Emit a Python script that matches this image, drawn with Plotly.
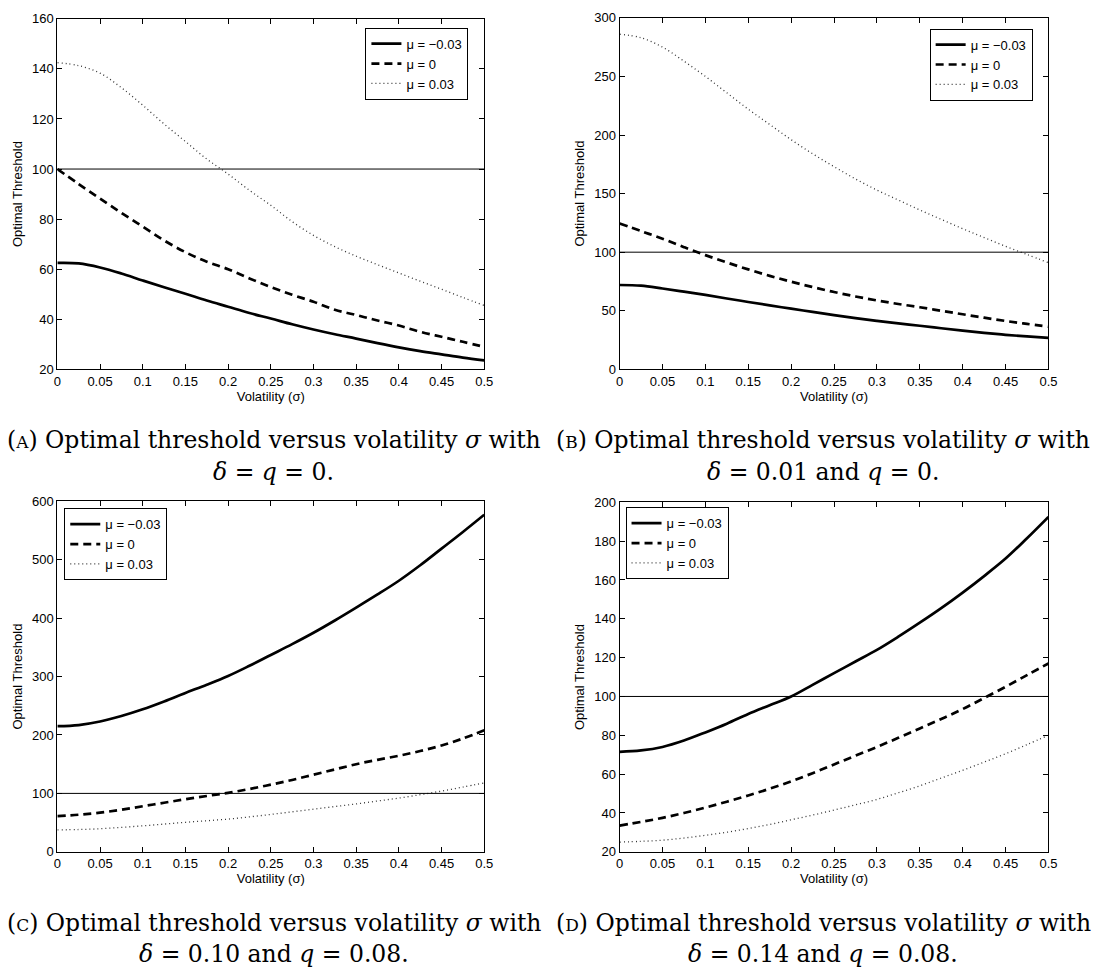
import plotly.graph_objects as go

W, H = 1095, 977

sigma = [0.0, 0.025, 0.05, 0.075, 0.10, 0.125, 0.15, 0.175, 0.20, 0.225, 0.25,
         0.275, 0.30, 0.325, 0.35, 0.375, 0.40, 0.425, 0.45, 0.475, 0.50]
x_ticks = [0, 0.05, 0.1, 0.15, 0.2, 0.25, 0.3, 0.35, 0.4, 0.45, 0.5]
x_tick_text = ["0", "0.05", "0.1", "0.15", "0.2", "0.25", "0.3", "0.35", "0.4", "0.45", "0.5"]
series_names = ["\u03bc = \u22120.03", "\u03bc = 0", "\u03bc = 0.03"]

# Panel A: delta = q = 0
A_neg = [62.5, 62.3, 60.7, 58.3, 55.5, 52.8, 50.2, 47.5, 45.0, 42.5, 40.3,
         38.0, 35.9, 34.0, 32.3, 30.5, 28.8, 27.3, 26.0, 24.7, 23.6]
A_zero = [100.0, 94.0, 88.2, 82.5, 77.0, 71.5, 66.8, 63.0, 60.0, 56.3, 52.9,
          49.8, 47.0, 43.8, 41.7, 39.5, 37.5, 35.0, 33.0, 31.0, 29.0]
A_pos = [142.5, 141.3, 138.3, 132.5, 125.5, 118.0, 111.0, 104.0, 98.0, 91.5, 85.5,
         79.0, 73.5, 69.0, 65.2, 61.8, 58.5, 55.2, 52.0, 48.7, 45.5]
# Panel B: delta = 0.01, q = 0
B_neg = [72.0, 71.4, 69.0, 66.3, 63.5, 60.5, 57.5, 54.6, 51.8, 49.0, 46.3,
         43.7, 41.3, 39.2, 37.2, 35.1, 33.0, 31.2, 29.5, 28.1, 26.8]
B_zero = [124.5, 118.0, 111.5, 104.3, 97.5, 91.2, 85.3, 79.8, 74.8, 70.2, 66.0,
          62.2, 58.8, 55.8, 53.0, 50.0, 47.0, 44.1, 41.3, 38.8, 36.4]
B_pos = [286.0, 283.0, 275.0, 263.0, 250.0, 236.0, 222.0, 209.0, 196.0, 184.0, 173.0,
         162.5, 153.0, 144.5, 136.0, 128.0, 120.0, 112.5, 105.0, 98.0, 91.0]
# Panel C: delta = 0.10, q = 0.08
C_neg = [215.0, 217.0, 223.0, 232.5, 244.0, 257.5, 272.0, 286.0, 301.0, 318.5, 337.0,
         355.5, 375.0, 396.0, 418.0, 440.5, 464.0, 490.5, 519.0, 547.5, 577.0]
C_zero = [61.0, 63.5, 67.0, 72.0, 78.0, 84.0, 90.0, 95.5, 101.0, 107.5, 115.0,
          123.0, 132.0, 141.0, 150.0, 157.5, 164.5, 172.5, 182.0, 194.0, 208.0]
C_pos = [37.5, 38.2, 39.5, 41.8, 44.5, 47.5, 50.5, 53.2, 56.0, 59.8, 64.0,
         68.5, 73.0, 77.5, 82.0, 87.0, 92.0, 97.8, 104.0, 110.8, 118.0]
# Panel D: delta = 0.14, q = 0.08
D_neg = [71.5, 72.2, 74.0, 77.3, 81.5, 86.0, 91.0, 95.5, 100.0, 106.0, 112.0,
         118.0, 124.0, 130.8, 138.0, 145.5, 153.5, 162.0, 171.0, 181.5, 192.5]
D_zero = [33.5, 35.4, 37.5, 40.0, 42.8, 45.8, 49.0, 52.5, 56.3, 60.5, 65.0,
          69.5, 74.0, 78.7, 83.5, 88.4, 93.5, 99.2, 105.0, 111.0, 117.0]
D_pos = [25.0, 25.4, 26.0, 27.1, 28.5, 30.1, 32.0, 34.1, 36.5, 38.9, 41.5,
         44.2, 47.0, 50.4, 54.0, 58.0, 62.0, 66.2, 70.5, 75.2, 80.0]

y_ranges = [[20, 160], [0, 300], [0, 600], [20, 200]]
y_dticks = [20, 50, 100, 20]
ref_level = 100

SC = "<span style='font-size:17px'>{}</span>"
captions = [
    ("(" + SC.format("A") + ") Optimal threshold versus volatility <i>\u03c3</i> with",
     "<i>\u03b4</i> = <i>q</i> = 0."),
    ("(" + SC.format("B") + ") Optimal threshold versus volatility <i>\u03c3</i> with",
     "<i>\u03b4</i> = 0.01 and <i>q</i> = 0."),
    ("(" + SC.format("C") + ") Optimal threshold versus volatility <i>\u03c3</i> with",
     "<i>\u03b4</i> = 0.10 and <i>q</i> = 0.08."),
    ("(" + SC.format("D") + ") Optimal threshold versus volatility <i>\u03c3</i> with",
     "<i>\u03b4</i> = 0.14 and <i>q</i> = 0.08."),
]

panels = [(A_neg, A_zero, A_pos), (B_neg, B_zero, B_pos), (C_neg, C_zero, C_pos), (D_neg, D_zero, D_pos)]

# pixel boxes of plot areas (left, right, top, bottom)
boxes = [(54, 486, 12, 368), (623, 1057, 11, 368), (54, 486, 502, 858), (623, 1057, 503, 858)]
legend_pos = [(470, 21, "right"), (1041, 22, "right"), (61, 509, "left"), (629, 508, "left")]
caption_y = [440, 440, 930, 930]
caption_x = [273, 829, 273, 829]

SANS = "Liberation Sans, Arial, Helvetica, sans-serif"
SERIF = "DejaVu Serif, serif"

styles = [
    dict(color="black", width=2.7, dash="solid"),
    dict(color="black", width=2.7, dash="8px,5px"),
    dict(color="#333333", width=1.3, dash="1px,3px"),
]

fig = go.Figure()
tick_font = dict(family=SANS, size=13, color="black")

annotations = []
shapes = []
for i, (data, box) in enumerate(zip(panels, boxes)):
    sfx = "" if i == 0 else str(i + 1)
    leg = "legend" if i == 0 else "legend" + str(i + 1)
    for name, vals, st in zip(series_names, data, styles):
        fig.add_trace(go.Scatter(
            x=sigma, y=vals, mode="lines", name=name, line=dict(shape="spline", smoothing=1.0, **st),
            xaxis="x" + sfx, yaxis="y" + sfx, legend=leg, showlegend=True))
    l, r, t, b = box
    xdom = [l / W, r / W]
    ydom = [1 - b / H, 1 - t / H]
    common = dict(showline=True, linecolor="black", linewidth=1, mirror="ticks", ticks="inside",
                  ticklen=5, tickcolor="black", showgrid=False, zeroline=False, tickfont=tick_font)
    fig.update_layout(**{
        "xaxis" + sfx: dict(domain=xdom, range=[0, 0.5], tickvals=x_ticks, ticktext=x_tick_text,
                            anchor="y" + sfx,
                            title=dict(text="Volatility (\u03c3)", standoff=3,
                                       font=dict(family=SANS, size=13, color="black")),
                            **common),
        "yaxis" + sfx: dict(domain=ydom, range=y_ranges[i], dtick=y_dticks[i], anchor="x" + sfx,
                            title=dict(text="Optimal Threshold", standoff=6,
                                       font=dict(family=SANS, size=13, color="black")),
                            **common),
    })
    shapes.append(dict(type="line", xref="x" + sfx + " domain", yref="y" + sfx, x0=0, x1=1,
                       y0=ref_level, y1=ref_level, line=dict(color="black", width=1)))
    lx, ly, anc = legend_pos[i]
    fig.update_layout(**{leg: dict(x=lx / W, y=1 - ly / H, xanchor=anc, yanchor="top",
                                   bgcolor="white", bordercolor="black", borderwidth=1,
                                   font=dict(family=SANS, size=13, color="black"),
                                   tracegroupgap=0)})
    l1, l2 = captions[i]
    for k, txt in enumerate((l1, l2)):
        annotations.append(dict(text=txt, x=caption_x[i] / W, y=1 - (caption_y[i] + 32 * k) / H,
                                xref="paper", yref="paper", showarrow=False,
                                xanchor="center", yanchor="middle",
                                font=dict(family=SERIF, size=23.5, color="black")))

fig.update_layout(width=W, height=H, margin=dict(l=0, r=0, t=0, b=0), paper_bgcolor="white",
                  plot_bgcolor="white", annotations=annotations, shapes=shapes,
                  font=dict(family=SANS, color="black"))

fig.write_html("out.html")
